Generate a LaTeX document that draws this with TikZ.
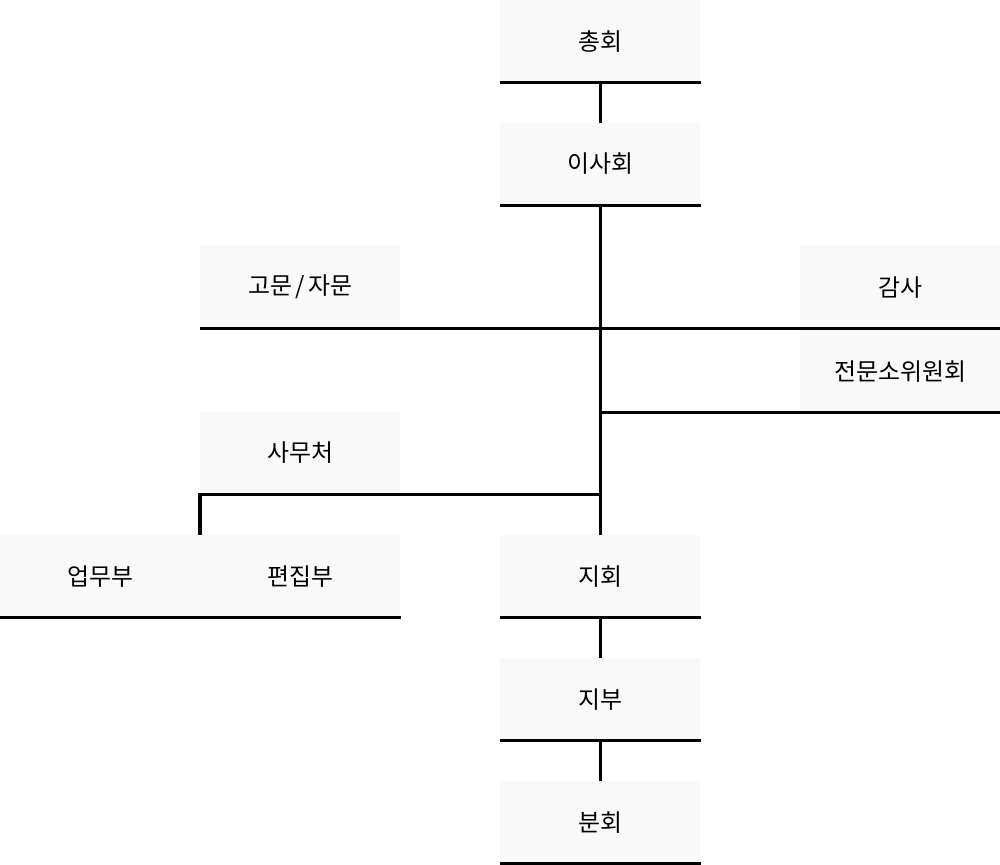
\documentclass[tikz,border=0pt]{standalone}
\usepackage{fontspec}
\newfontfamily\kr{Noto Sans CJK KR}
\definecolor{boxgray}{RGB}{249,249,249}
\begin{document}
\begin{tikzpicture}[x=0.025cm,y=-0.025cm,
	unit/.style={fill=boxgray,minimum width=5cm,minimum height=2.0375cm,inner sep=0pt,anchor=north west,font=\kr\fontsize{17}{20}\selectfont},
	bar/.style={line width=2.15pt}]
	\useasboundingbox (0,0) rectangle (1000,864);

	% Units
	\node[unit] (assembly) at (500,0) {총회};
	\node[unit] (board) at (500,123) {이사회};
	\node[unit] (advisory) at (200,246) {고문\hspace{0.15em}/\hspace{0.15em}자문};
	\node[unit] (audit) at (800,246) {감사};
	\node[unit] (committee) at (800,330) {전문소위원회};
	\node[unit] (secretariat) at (200,412) {사무처};
	\node[unit] (affairs) at (0,535) {업무부};
	\node[unit] (editorial) at (200,535) {편집부};
	\node[unit] (chapter) at (500,535) {지회};
	\node[unit] (branch) at (500,658) {지부};
	\node[unit] (division) at (500,781) {분회};

	% Bottom bars
	\foreach \n in {assembly,board,chapter,branch,division}
	\draw[bar] (\n.south west) -- (\n.south east);
	\draw[bar] (advisory.south west) -- (audit.south east);
	\draw[bar] (affairs.south west) -- (editorial.south east);

	% Main line
	\draw[bar] (assembly.south) -- (board.north);
	\draw[bar] (board.south) -- (chapter.north);
	\draw[bar] (chapter.south) -- (branch.north);
	\draw[bar] (branch.south) -- (division.north);

	% Side branches
	\draw[bar] (committee.south east) -- (committee.south east -| board.south);
	\draw[bar] (secretariat.south east -| board.south) -- (secretariat.south west) -- (editorial.north west);
\end{tikzpicture}
\end{document}
